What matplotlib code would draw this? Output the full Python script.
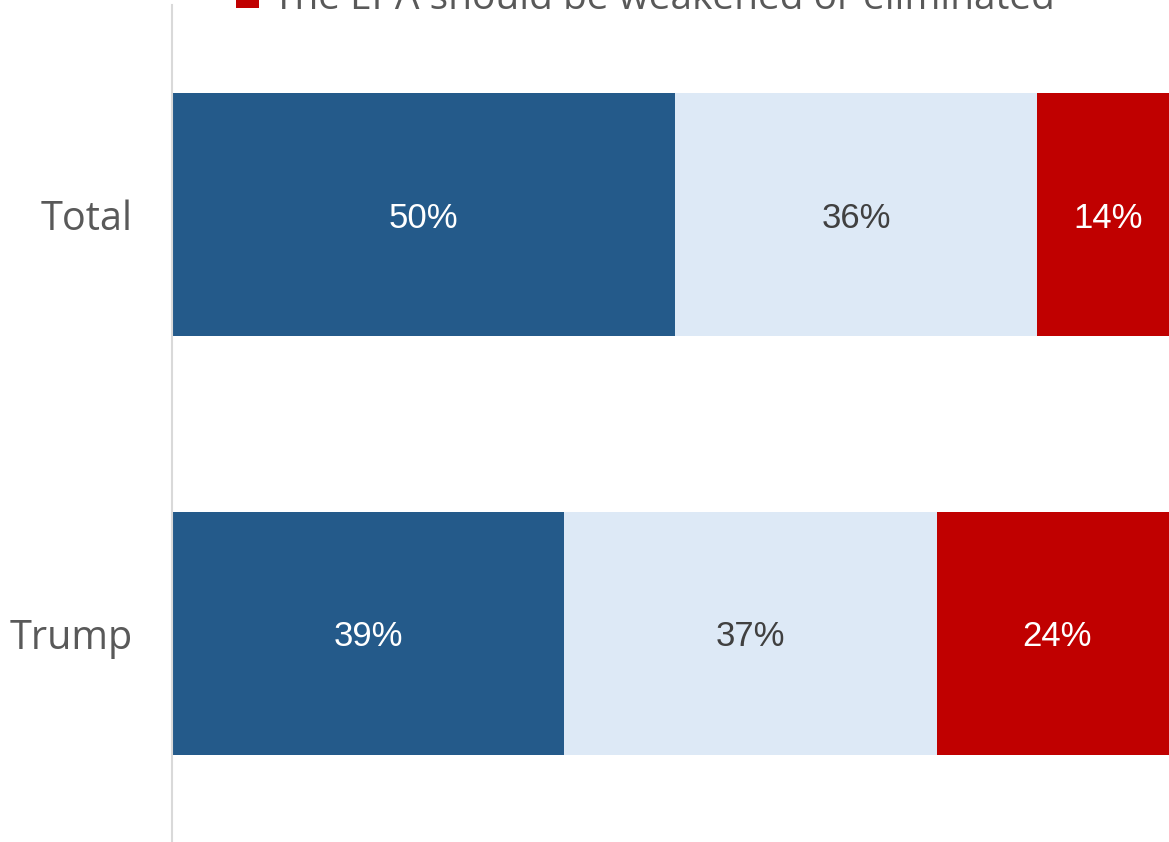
import matplotlib
matplotlib.use('Agg')
import matplotlib.pyplot as plt
import numpy as np

# data
groups = ['Total', 'Trump']
series = ['The EPA should be strengthened',
          'The EPA should be kept as is',
          'The EPA should be weakened or eliminated']
strengthen = [50, 39]
keep = [36, 37]
weaken = [14, 24]
colors = ['#245A8A', '#DDE9F6', '#C00000']
label_colors = ['white', '#404040', 'white']

plt.rcParams['font.family'] = ['Open Sans', 'DejaVu Sans']

fig = plt.figure(figsize=(11.69, 8.42), dpi=100)
ax = fig.add_axes([172 / 1169, -1 / 842, 1 - 172 / 1169, 838 / 842])

ypos = np.arange(len(groups))[::-1]  # Total at top
left = np.zeros(len(groups))
for vals, name, col, tcol in zip([strengthen, keep, weaken], series, colors, label_colors):
    vals = np.array(vals, dtype=float)
    bars = ax.barh(ypos, vals, left=left, height=0.582, color=col, label=name)
    for b, v in zip(bars, vals):
        ax.text(b.get_x() + b.get_width() / 2, b.get_y() + b.get_height() / 2,
                '{0:.0f}%'.format(v), ha='center', va='center_baseline',
                color=tcol, fontsize=25, family=['Liberation Sans', 'DejaVu Sans'])
    left += vals

ax.set_xlim(0, 99.1)
ax.set_ylim(-0.5, 1.5)
ax.set_yticks(ypos)
ax.set_yticklabels(groups, fontsize=28.5, color='#595959')
ax.tick_params(axis='y', length=0, pad=28)
ax.set_xticks([])
for s in ['top', 'right', 'bottom']:
    ax.spines[s].set_visible(False)
ax.spines['left'].set_color('#d9d9d9')
ax.spines['left'].set_linewidth(1.5)

# legend sits above the chart, mostly cut off by the frame
fig.legend(loc='lower left', bbox_to_anchor=(236 / 1169, 1 - 18 / 842),
           ncol=1, frameon=False, fontsize=28, labelcolor='#595959',
           handlelength=0.6, handleheight=0.6, handletextpad=0.35,
           borderpad=0, borderaxespad=0, labelspacing=0.3)

fig.savefig('out.png', dpi=100)
